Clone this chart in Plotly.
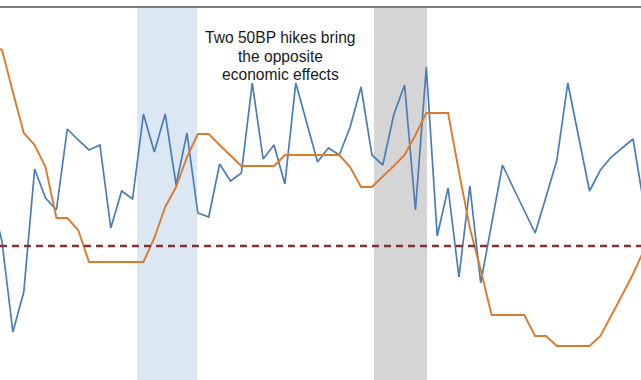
import plotly.graph_objects as go

# ---- data (arbitrary units, reference line at 0) ----
periods = list(range(61))

activity = [2.55, 0.2, -4.3, -2.3, 3.85, 2.4, 1.8, 5.85, 5.3, 4.8,
            5.05, 0.9, 2.75, 2.35, 6.6, 4.7, 6.6, 3.05, 5.65, 1.65,
            1.45, 4.1, 3.25, 3.65, 8.15, 4.35, 5.05, 3.1, 8.15, 6.2,
            4.2, 4.9, 4.55, 5.95, 7.95, 4.55, 4.05, 6.55, 8.05, 1.8,
            8.95, 0.5, 2.9, -1.55, 3.0, -1.85, 1.1, 4.05, 2.9, 1.8,
            0.65, 2.45, 4.3, 8.15, 5.45, 2.75, 3.8, 4.45, 4.9, 5.35,
            2.05]

trend = [10.05, 9.8, 7.7, 5.65, 5.05, 3.95, 1.4, 1.4, 0.8, -0.8,
         -0.8, -0.8, -0.8, -0.8, -0.8, 0.4, 1.95, 2.95, 4.45, 5.6,
         5.6, 5.05, 4.55, 4.0, 4.0, 4.0, 4.0, 4.55, 4.55, 4.55,
         4.55, 4.55, 4.55, 3.95, 2.95, 2.95, 3.45, 4.0, 4.55, 5.55,
         6.65, 6.65, 6.65, 3.7, 0.9, -1.2, -3.45, -3.45, -3.45, -3.45,
         -4.5, -4.5, -5.0, -5.0, -5.0, -5.0, -4.5, -3.5, -2.45, -1.4,
         -0.2]

reference_level = 0
hike1_period = (13.41, 18.92)
hike2_period = (35.19, 40.06)
annotation_lines = ["Two 50BP hikes bring", "the opposite", "economic effects"]

# ---- figure ----
fig = go.Figure()

fig.add_trace(go.Scatter(x=periods, y=activity, mode="lines",
                         line=dict(color="#4a7db5", width=1.7), hoverinfo="skip"))
fig.add_trace(go.Scatter(x=periods, y=trend, mode="lines",
                         line=dict(color="#dc7a2e", width=1.9), hoverinfo="skip"))

fig.add_shape(type="rect", xref="x", yref="paper",
              x0=hike1_period[0], x1=hike1_period[1], y0=0, y1=1,
              fillcolor="#dbe8f4", line_width=0, layer="below")
fig.add_shape(type="rect", xref="x", yref="paper",
              x0=hike2_period[0], x1=hike2_period[1], y0=0, y1=1,
              fillcolor="#d5d5d5", line_width=0, layer="below")
fig.add_shape(type="line", xref="paper", yref="y",
              x0=0, x1=1, y0=reference_level, y1=reference_level,
              line=dict(color="#823232", width=2.4, dash="7px,5px"), layer="above")
fig.add_shape(type="line", xref="paper", yref="paper",
              x0=0, x1=1, y0=1, y1=1,
              line=dict(color="#7c7c7c", width=2), layer="above")

for txt, yy in zip(annotation_lines, [10.42, 9.47, 8.57]):
    fig.add_annotation(x=26.64, y=yy, xref="x", yref="y", text=txt,
                       showarrow=False, xanchor="center", yanchor="middle",
                       font=dict(family="Liberation Sans, Arial, sans-serif",
                                 size=15.6, color="#1a1a1a"))

fig.update_layout(
    width=641, height=380,
    margin=dict(l=0, r=0, t=7, b=0),
    paper_bgcolor="white", plot_bgcolor="white",
    showlegend=False,
    xaxis=dict(visible=False, range=[0.816, 59.73]),
    yaxis=dict(visible=False, range=[-6.7, 11.95]),
)

fig.write_html("out.html",
               config={"displayModeBar": False},
               post_script="document.body.style.margin='0';document.body.style.padding='0';document.body.style.overflow='hidden';")
